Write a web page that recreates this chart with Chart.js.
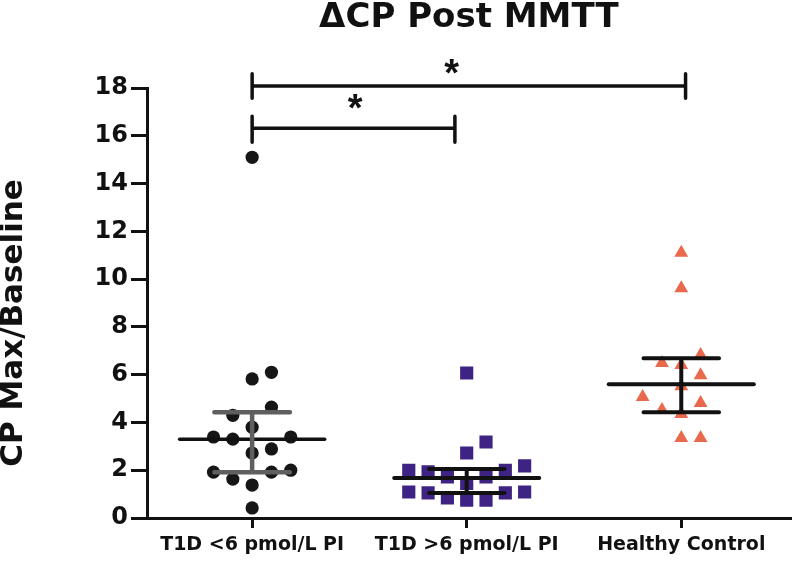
<!DOCTYPE html>
<html>
<head>
<meta charset="utf-8">
<script src="https://cdn.jsdelivr.net/npm/chart.js@4.4.1/dist/chart.umd.min.js"></script>
<style>
html,body{margin:0;padding:0;background:#fff;}
#wrap{width:800px;height:568px;}
</style>
</head>
<body>
<div id="wrap"><canvas id="c" width="800" height="568"></canvas></div>
<script>
// ---- data ----
const categories = ['T1D <6 pmol/L PI', 'T1D >6 pmol/L PI', 'Healthy Control'];
const chartTitle = '\u0394CP Post MMTT';
const yAxisTitle = 'CP Max/Baseline';
const yTicks = [0, 2, 4, 6, 8, 10, 12, 14, 16, 18];

// jitter (in category units) and values for each group
const lowPIJitter = [0, 0, 0.09, 0.09, -0.09, 0, -0.18, -0.09, 0.18, 0, 0.09, -0.18, -0.09, 0.09, 0.18, 0, 0];
const lowPIValues = [15.1, 5.82, 6.1, 4.64, 4.3, 3.8, 3.39, 3.3, 3.39, 2.72, 2.89, 1.92, 1.63, 1.92, 2.0, 1.38, 0.42];
const highPIJitter = [0, 0.09, 0, -0.27, -0.18, 0.18, 0.27, -0.09, 0.09, 0, -0.27, -0.18, -0.09, 0, 0.09, 0.18, 0.27];
const highPIValues = [6.07, 3.18, 2.72, 2.0, 1.93, 2.0, 2.18, 1.72, 1.72, 1.45, 1.09, 1.05, 0.84, 0.75, 0.75, 1.05, 1.09];
const controlJitter = [0, 0, 0.09, -0.09, 0, 0.09, 0, -0.18, 0.09, -0.09, 0, 0, 0.09];
const controlValues = [11.1, 9.62, 6.82, 6.49, 6.4, 5.98, 5.52, 5.06, 4.81, 4.52, 4.35, 3.35, 3.35];

// summary lines (centre and spread bars)
const centreValues = [3.3, 1.67, 5.6];
const upperValues = [4.43, 2.05, 6.69];
const lowerValues = [1.92, 1.05, 4.43];

// significance brackets
const bracketFrom = [1, 1];
const bracketTo = [3.02, 1.945];
const bracketLevel = [18.08, 16.32];
const bracketTickTop = [18.6, 16.82];
const bracketTickBottom = [17.57, 15.73];
const starX = [1.93, 1.48];
const starY = [18.83, 17.36];
const starText = ['*', '*'];

// ---- build ----
const FONT = "'DejaVu Sans', sans-serif";
const INK = '#111111';
const meanHalf = 0.338, whiskerHalf = 0.176;

function pts(jit, vals, c) { return vals.map((v, i) => ({ x: c + jit[i], y: v })); }

function meanSeg(i) {
  const c = i + 1;
  return [{ x: c - meanHalf, y: centreValues[i] }, { x: c + meanHalf, y: centreValues[i] }];
}
function spreadSeg(i) {
  const c = i + 1;
  return [
    { x: c, y: lowerValues[i] }, { x: c, y: upperValues[i] }, { x: c, y: null },
    { x: c - whiskerHalf, y: upperValues[i] }, { x: c + whiskerHalf, y: upperValues[i] }, { x: c, y: null },
    { x: c - whiskerHalf, y: lowerValues[i] }, { x: c + whiskerHalf, y: lowerValues[i] }
  ];
}
function bracketSeg(k) {
  return [
    { x: bracketFrom[k], y: bracketTickBottom[k] }, { x: bracketFrom[k], y: bracketTickTop[k] }, { x: bracketFrom[k], y: null },
    { x: bracketFrom[k], y: bracketLevel[k] }, { x: bracketTo[k], y: bracketLevel[k] }, { x: bracketFrom[k], y: null },
    { x: bracketTo[k], y: bracketTickBottom[k] }, { x: bracketTo[k], y: bracketTickTop[k] }
  ];
}
function lineDs(data, color, width) {
  return {
    type: 'line', data: data, borderColor: color, borderWidth: width, pointRadius: 0,
    borderCapStyle: 'round', fill: false, spanGaps: false, tension: 0, clip: false, order: 0
  };
}

const datasets = [
  { type: 'scatter', data: pts(lowPIJitter, lowPIValues, 1), pointStyle: 'circle', pointRadius: 6.6,
    backgroundColor: '#161616', borderColor: '#161616', borderWidth: 0, order: 2 },
  { type: 'scatter', data: pts(highPIJitter, highPIValues, 2), pointStyle: 'rect', pointRadius: 9.3,
    backgroundColor: '#3e2384', borderColor: '#3e2384', borderWidth: 0, order: 2 },
  { type: 'scatter', data: pts(controlJitter, controlValues, 3), pointStyle: 'triangle', pointRadius: 8,
    backgroundColor: '#e9694c', borderColor: '#e9694c', borderWidth: 0, order: 2 },
  lineDs(spreadSeg(0), '#5f5f5f', 4.5),
  lineDs(meanSeg(0), INK, 3.5),
  lineDs(spreadSeg(1), INK, 4),
  lineDs(meanSeg(1), INK, 4),
  lineDs(spreadSeg(2), INK, 4),
  lineDs(meanSeg(2), INK, 4),
  lineDs(bracketSeg(0), INK, 3.5),
  lineDs(bracketSeg(1), INK, 3.5)
];

const textPlugin = {
  id: 'texts',
  afterDraw(chart) {
    const ctx = chart.ctx, xs = chart.scales.x, ys = chart.scales.y, ca = chart.chartArea;
    ctx.save();
    ctx.fillStyle = INK;
    ctx.font = "bold 38px 'Liberation Sans', Arial, sans-serif";
    ctx.textAlign = 'center';
    ctx.textBaseline = 'alphabetic';
    for (let k = 0; k < starText.length; k++) {
      ctx.fillText(starText[k], xs.getPixelForValue(starX[k]), ys.getPixelForValue(starY[k]) + 18);
    }
    ctx.translate(14, (ca.top + ca.bottom) / 2 + 20);
    ctx.rotate(-Math.PI / 2);
    ctx.font = "bold 31px " + FONT;
    ctx.textBaseline = 'middle';
    ctx.fillText(yAxisTitle, 0, 0);
    ctx.restore();
  }
};

new Chart(document.getElementById('c'), {
  type: 'scatter',
  data: { datasets: datasets },
  options: {
    responsive: false,
    animation: false,
    events: [],
    layout: { padding: { left: 0, right: 5, top: 0, bottom: 0 } },
    plugins: {
      legend: { display: false },
      tooltip: { enabled: false },
      title: {
        display: true, text: chartTitle, color: INK, fullSize: false,
        font: { family: FONT, size: 34, weight: 'bold', lineHeight: 1 },
        padding: { top: 1, bottom: 53 }
      }
    },
    scales: {
      x: {
        type: 'linear', min: 0.51, max: 3.51,
        afterBuildTicks: s => { s.ticks = categories.map((c, i) => ({ value: i + 1 })); },
        afterFit: s => { s.height = 50; },
        ticks: {
          callback: v => categories[Math.round(v) - 1] || '',
          color: INK, font: { family: FONT, size: 19, weight: 'bold' }, padding: 6,
          maxRotation: 0, autoSkip: false
        },
        grid: { drawOnChartArea: false, drawTicks: true, tickLength: 10, lineWidth: 3, color: INK },
        border: { display: true, width: 3, color: INK }
      },
      y: {
        type: 'linear', min: 0, max: 18,
        afterBuildTicks: s => { s.ticks = yTicks.map(v => ({ value: v })); },
        afterFit: s => { s.width = 147; },
        ticks: { color: INK, font: { family: FONT, size: 24, weight: 'bold' }, padding: 3 },
        grid: { drawOnChartArea: false, drawTicks: true, tickLength: 16, lineWidth: 3, color: INK },
        border: { display: true, width: 3, color: INK }
      }
    }
  },
  plugins: [textPlugin]
});
</script>
</body>
</html>
